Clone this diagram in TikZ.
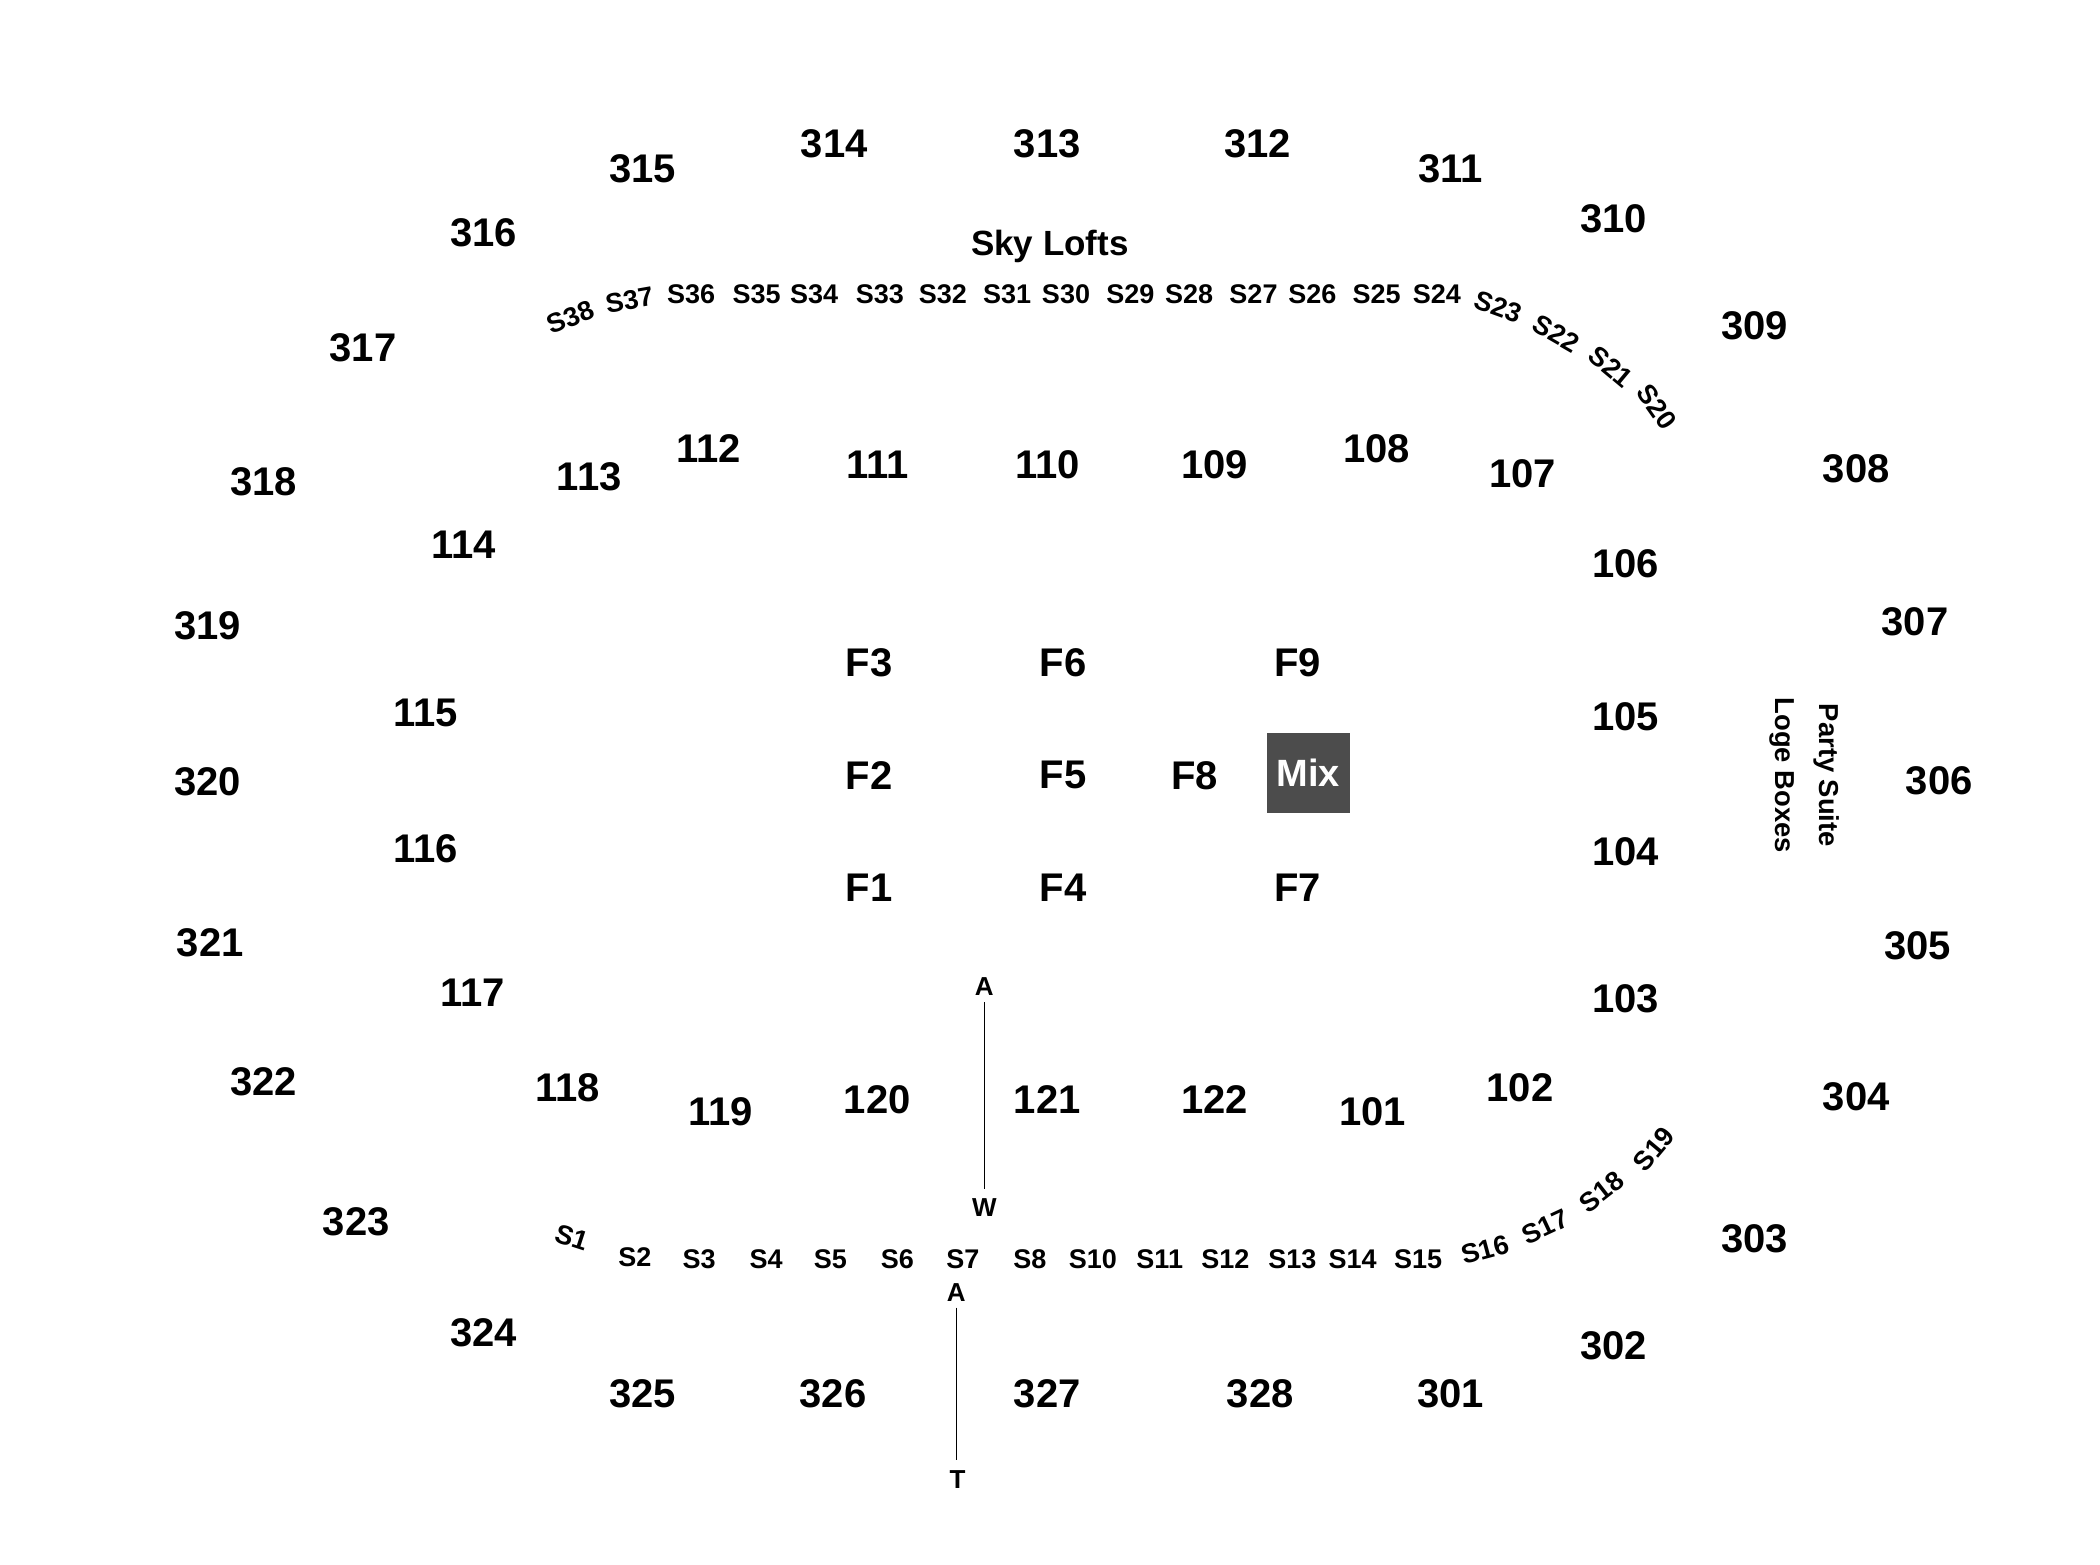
\documentclass[tikz,border=0pt]{standalone}
\usepackage{fontspec}
\setmainfont{Liberation Sans}
\begin{document}
\begin{tikzpicture}[x=0.6696pt,y=-0.6696pt,
  num/.style={font=\fontsize{20}{22}\selectfont\bfseries, inner sep=0pt},
  sl/.style={font=\fontsize{13.5}{15}\selectfont\bfseries, inner sep=0pt},
  lbl/.style={font=\fontsize{13}{15}\selectfont\bfseries, inner sep=0pt},
  side/.style={font=\fontsize{13.7}{15}\selectfont\bfseries, inner sep=0pt, rotate=-90},
  mixbox/.style={fill=black!70, text=white, minimum width=41.5pt, minimum height=40.2pt, inner sep=0pt, font=\fontsize{19}{21}\selectfont\bfseries},
  aisle/.style={line width=0.7pt, black}]
\useasboundingbox (0,0) rectangle (1568.1,1167.9);
% 300 level
\foreach \n/\x/\y in {315/480/126,314/623/107,313/782/107,312/939/107,311/1083/126,310/1205/163,
  316/361/174,317/271/260,309/1310/243,318/197/360,308/1386/350,319/155/467,307/1430/464,
  320/155/584,306/1448/583,321/157/704,305/1432/706,322/197/808,304/1386/819,323/266/912,
  303/1310/925,324/361/995,302/1205/1005,325/480/1041,326/622/1041,327/782/1041,328/941/1041,301/1083/1041}
  \node[num] (u\n) at (\x,\y) {\n};
% 100 level
\foreach \n/\x/\y in {113/440/356,112/529/335,111/655/347,110/782/347,109/907/347,108/1028/335,
  107/1137/354,106/1214/421,114/346/407,115/318/532,105/1214/535,116/318/634,104/1214/636,
  117/353/741,103/1214/746,118/424/812,119/538/830,120/655/821,121/782/821,122/907/821,
  101/1025/830,102/1135/812}
  \node[num] (l\n) at (\x,\y) {\n};
% floor
\foreach \n/\x/\y in {F3/649/495,F6/794/495,F9/969/495,F2/649/579,F5/794/579,F8/892/579,
  F1/649/663,F4/794/663,F7/969/663}
  \node[num] (f\n) at (\x,\y) {\n};
\node[mixbox] (mix) at (977,577) {Mix};
% sky lofts
\node[font=\fontsize{17.5}{19}\selectfont\bfseries, inner sep=0pt] (skylofts) at (784,184) {Sky Lofts};
\foreach \n/\x/\y/\r in {S38/426/237/22,S37/470/224/10,S36/516/220/0,S35/565/220/0,S34/608/220/0,
  S33/657/220/0,S32/704/220/0,S31/752/220/0,S30/796/220/0,S29/844/220/0,S28/888/220/0,
  S27/936/220/0,S26/980/220/0,S25/1028/220/0,S24/1073/220/0,S23/1119/229/-20,S22/1162/249/-30,
  S21/1203/274/-40,S20/1237/304/-55}
  \node[sl, rotate=\r] (t\n) at (\x,\y) {\n};
\foreach \n/\x/\y/\r in {S1/427/924/-18,S2/474/939/0,S3/522/940/0,S4/572/940/0,S5/620/940/0,
  S6/670/940/0,S7/719/940/0,S8/769/940/0,S10/816/940/0,S11/866/940/0,S12/915/940/0,S13/965/940/0,
  S14/1010/940/0,S15/1059/940/0,S16/1109/933/15,S17/1154/916/25,S18/1196/890/38,S19/1235/858/50}
  \node[sl, rotate=\r] (b\n) at (\x,\y) {\n};
% side labels
\node[side] (party) at (1364,579) {Party Suite};
\node[side] (loge) at (1331,579) {Loge Boxes};
% aisle markers
\node[lbl] (a1) at (735,737) {A};
\node[lbl] (w1) at (735,902) {W};
\node[lbl] (a2) at (714,965) {A};
\node[lbl] (t1) at (715,1105) {T};
\draw[aisle] ([yshift=-3]a1.south) -- ([yshift=5]w1.north);
\draw[aisle] ([yshift=-3]a2.south) -- ([yshift=5]t1.north -| a2.south);
\end{tikzpicture}
\end{document}
